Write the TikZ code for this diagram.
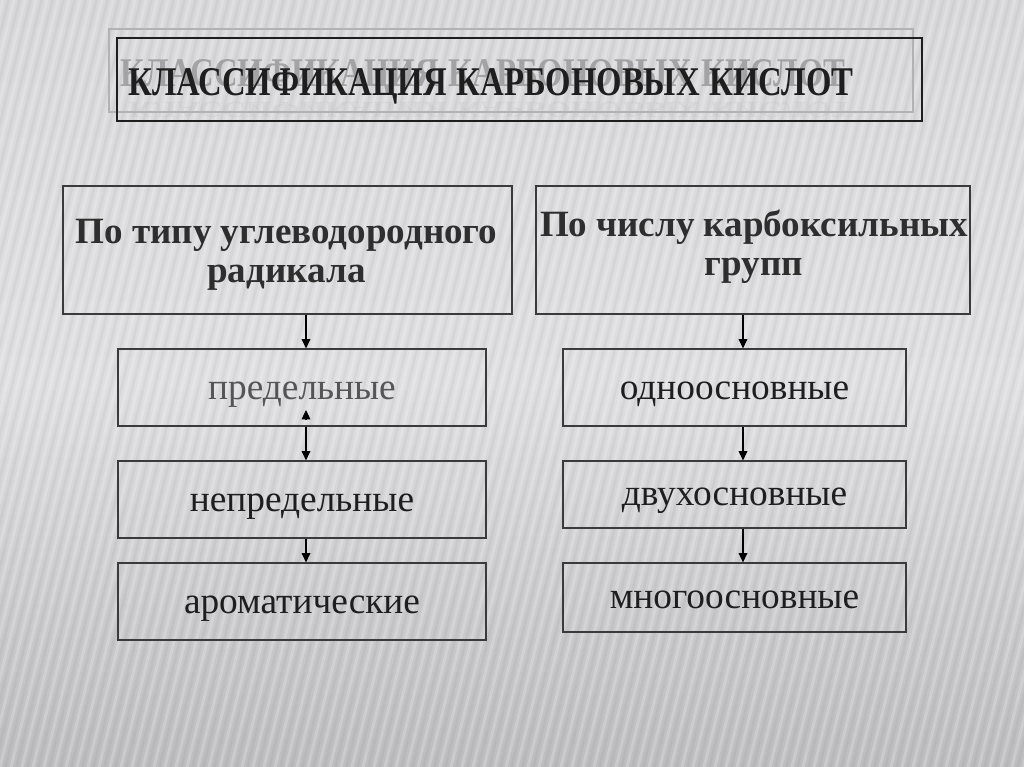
\documentclass[tikz,border=0pt]{standalone}
\usepackage{fontspec}
\setmainfont{Liberation Serif}
\usetikzlibrary{arrows.meta,calc}
\definecolor{bgtop}{HTML}{D8D8DB}
\definecolor{bgmid}{HTML}{DFDFE1}
\definecolor{bgbot}{HTML}{BDBDC0}
\definecolor{ink}{HTML}{1E1E1E}
\definecolor{hdink}{HTML}{2E2E2E}
\definecolor{lightink}{HTML}{555555}
\definecolor{boxline}{HTML}{3A3A3A}
\definecolor{ghost}{HTML}{9A9A9C}
\newcommand{\titletext}{\bfseries КЛАССИФИКАЦИЯ\hspace{0.3em}КАРБОНОВЫХ\hspace{0.3em}КИСЛОТ}
\begin{document}
\begin{tikzpicture}[x=0.75pt,y=-0.75pt,
  hdrbox/.style={draw=boxline, line width=0.9pt, inner sep=0pt},
  itembox/.style={draw=boxline, line width=0.9pt, inner sep=0pt},
  hdrtext/.style={text=hdink, font=\fontsize{27.8}{33}\selectfont\bfseries, align=center, inner sep=0pt},
  itemtext/.style={text=ink, font=\fontsize{28}{33}\selectfont, inner sep=0pt, anchor=base},
  conn/.style={draw=black, line width=0.9pt, -{Triangle[length=7pt,width=6.5pt]}}
]
\useasboundingbox (0,0) rectangle (1024,767);
\begin{scope}
\clip (0,0) rectangle (1024,767);
\shade[top color=bgtop, bottom color=bgbot, middle color=bgmid] (0,0) rectangle (1024,767);
\foreach \i in {-20,...,95} {
  \draw[white, opacity=0.2, line width=2.2pt] (\i*11,767) -- (\i*11+190,0);
  \draw[black, opacity=0.035, line width=2pt] (\i*11+5.5,767) -- (\i*11+195.5,0);
}
\end{scope}

% title
\node[draw=gray!60, line width=0.9pt, minimum width=804*0.75pt, minimum height=83*0.75pt, inner sep=0pt] (tshadow) at (511,70.5) {};
\node[draw=ink, line width=1.1pt, minimum width=805*0.75pt, minimum height=83*0.75pt, inner sep=0pt] (tbox) at (519.5,79.5) {};
\node[anchor=base west, inner sep=0pt, text=ghost, opacity=0.85] (tghost) at (120,86) {\resizebox{543.75pt}{20.25pt}{\titletext}};
\node[anchor=north west, inner sep=0pt, text=gray!60, opacity=0.18] (trefl) at (128,97) {\scalebox{1}[-0.55]{\resizebox{543.75pt}{20.25pt}{\titletext}}};
\node[anchor=base west, inner sep=0pt, text=ink] (title) at (128,95) {\resizebox{543.75pt}{20.25pt}{\titletext}};

% headers
\node[hdrbox, minimum width=449*0.75pt, minimum height=128*0.75pt] (hL) at (287.5,250) {};
\node[hdrbox, minimum width=434*0.75pt, minimum height=128*0.75pt] (hR) at (753,250) {};
\node[hdrtext, anchor=base] (hL1) at (286.5,243) {По типу углеводородного};
\node[hdrtext, anchor=base] (hL2) at (286.5,282) {радикала};
\node[hdrtext, anchor=base] (hR1) at (754,236) {По числу карбоксильных};
\node[hdrtext, anchor=base] (hR2) at (754,275) {групп};

% left items
\node[itembox, minimum width=368*0.75pt, minimum height=77*0.75pt] (l1) at (302,387.5) {};
\node[itembox, minimum width=368*0.75pt, minimum height=77*0.75pt] (l2) at (302,499.5) {};
\node[itembox, minimum width=368*0.75pt, minimum height=77*0.75pt] (l3) at (302,601.5) {};
\node[itemtext, text=lightink] (l1t) at (302,399) {предельные};
\node[itemtext] (l2t) at (302,511) {непредельные};
\node[itemtext] (l3t) at (302,613) {ароматические};

% right items
\node[itembox, minimum width=343*0.75pt, minimum height=77*0.75pt] (r1) at (734.5,387.5) {};
\node[itembox, minimum width=343*0.75pt, minimum height=67*0.75pt] (r2) at (734.5,494.5) {};
\node[itembox, minimum width=343*0.75pt, minimum height=69*0.75pt] (r3) at (734.5,597.5) {};
\node[itemtext] (r1t) at (734.5,399) {одноосновные};
\node[itemtext] (r2t) at (734.5,505) {двухосновные};
\node[itemtext] (r3t) at (734.5,608) {многоосновные};

% arrow columns
\coordinate (aL) at (306,0);
\coordinate (aR) at (743,0);
\coordinate (upTip) at (306,410);
\coordinate (upBase) at (306,419);

\draw[conn] (hL.south -| aL) -- (l1.north -| aL);
\draw[conn] (l1.south -| aL) -- (l2.north -| aL);
\draw[conn] (upBase) -- (upTip);
\draw[conn] (l2.south -| aL) -- (l3.north -| aL);

\draw[conn] (hR.south -| aR) -- (r1.north -| aR);
\draw[conn] (r1.south -| aR) -- (r2.north -| aR);
\draw[conn] (r2.south -| aR) -- (r3.north -| aR);
\end{tikzpicture}
\end{document}
